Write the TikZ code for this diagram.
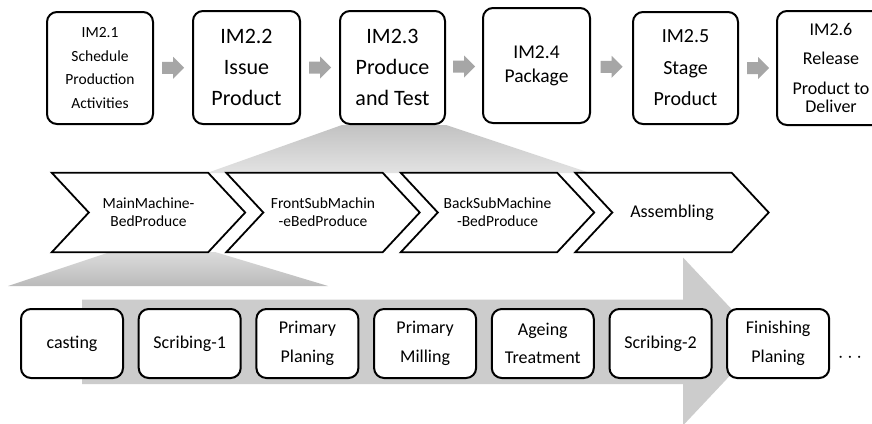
\documentclass[tikz,border=0pt]{standalone}
\usepackage{fontspec}
\setmainfont{Carlito}
\usetikzlibrary{calc}
\pgfdeclarelayer{bg}
\pgfdeclarelayer{mid}
\pgfsetlayers{bg,mid,main}
\definecolor{arrowgray}{HTML}{A6A6A6}
\definecolor{biggray}{HTML}{CCCCCC}
\tikzset{
  topbox/.style={draw=black, line width=2pt, rounded corners=10pt, fill=white,
    minimum width=106pt, minimum height=112pt, inner sep=0pt, align=center},
  botbox/.style={draw=black, line width=2pt, rounded corners=10pt, fill=white,
    minimum width=102pt, minimum height=69pt, inner sep=0pt, align=center,
    font=\fontsize{18}{28.5}\selectfont},
  chevbox/.style={minimum width=193pt, minimum height=79pt, inner sep=0pt, align=center,
    font=\fontsize{15.5}{18}\selectfont},
  chevshape/.style={draw=black, line width=1.8pt, fill=white, line join=miter},
  openbox/.style={draw=black, line width=2pt, rounded corners=10pt},
  blockarrow/.pic={\fill[arrowgray] (-11,-6) -- (0,-6) -- (0,-11) -- (11,0) -- (0,11) -- (0,6) -- (-11,6) -- cycle;}
}
\begin{document}
\begin{tikzpicture}[x=1pt,y=-1pt]
\useasboundingbox (0,0) rectangle (872,423);

% top row
\node[topbox, font=\fontsize{15.5}{23.8}\selectfont] (b1) at (100,68) {IM2.1\\Schedule\\Production\\Activities};
\node[topbox, minimum width=107pt, minimum height=113pt, font=\fontsize{22}{31}\selectfont] (b2) at (246.5,67.5) {IM2.2\\Issue\\Product};
\node[topbox, minimum width=105pt, minimum height=113pt, font=\fontsize{22}{31}\selectfont] (b3) at (392.5,67.5) {IM2.3\\Produce\\and Test};
\node[topbox, minimum width=107pt, minimum height=115pt, font=\fontsize{19.5}{24}\selectfont] (b4) at (536.5,65.5) {IM2.4\\Package};
\node[topbox, minimum width=105pt, font=\fontsize{20}{31.5}\selectfont] (b5) at (685.5,68) {IM2.5\\Stage\\Product};
\node[topbox, draw=none, minimum width=106pt, font=\fontsize{18}{17.5}\selectfont] (b6) at (831,68) {IM2.6\\[11pt]Release\\[13pt]Product to\\Deliver};
\draw[openbox] ([xshift=30pt]b6.north east) -- (b6.north west) -- (b6.south west) -- ([xshift=30pt]b6.south east);

\pic at ($(b1.east)!0.5!(b2.west)$) {blockarrow};
\pic at ($(b2.east)!0.5!(b3.west)$) {blockarrow};
\pic at ($(b3.east)!0.5!(b4.west)$) {blockarrow};
\pic at ($(b4.east)!0.5!(b5.west)$) {blockarrow};
\pic at ($(b5.east)!0.5!(b6.west)$) {blockarrow};

% chevron row
\node[chevbox] (c1) at (148.5,212.5) {MainMachine-\\BedProduce};
\node[chevbox] (c2) at (323,212.5) {FrontSubMachin\\-eBedProduce};
\node[chevbox] (c3) at (497.5,212.5) {BackSubMachine\\-BedProduce};
\node[chevbox, font=\fontsize{18}{21}\selectfont] (c4) at (672,212.5) {Assembling};

\begin{pgfonlayer}{mid}
\foreach \c in {c1,c2,c3,c4}
  \draw[chevshape] (\c.north west) -- ([xshift=-37pt]\c.north east) -- (\c.east)
    -- ([xshift=-37pt]\c.south east) -- (\c.south west) -- ([xshift=37pt]\c.west) -- cycle;
\end{pgfonlayer}

% bottom row
\node[botbox] (p1) at (72,343.5) {casting};
\node[botbox] (p2) at (189.7,343.5) {Scribing-1};
\node[botbox] (p3) at (307.4,343.5) {Primary\\Planing};
\node[botbox] (p4) at (425.1,343.5) {Primary\\Milling};
\node[botbox] (p5) at (542.8,343.5) {Ageing\\Treatment};
\node[botbox] (p6) at (660.5,343.5) {Scribing-2};
\node[botbox] (p7) at (778.2,343.5) {Finishing\\Planing};
\node[anchor=base, inner sep=0pt, font=\fontsize{22}{24}\selectfont] (dots) at (850,362.5) {$\cdots$};

% background shapes
\begin{pgfonlayer}{bg}
\fill[white] (0,0) rectangle (872,423);
\shade[top color=black!24, bottom color=black!11]
  ([xshift=3pt]b3.south west) -- (b3.south east) -- (590,173) -- (207,173) -- cycle;
\shade[top color=black!14, bottom color=black!27]
  (110,252) -- (215,252) -- (328,286) -- (8,286) -- cycle;
\fill[biggray] (82,299.5) -- (683,299.5) -- (683,257.5) -- (762,341.5) -- (683,425.5)
  -- (683,384) -- (82,384) -- cycle;
\end{pgfonlayer}
\end{tikzpicture}
\end{document}
